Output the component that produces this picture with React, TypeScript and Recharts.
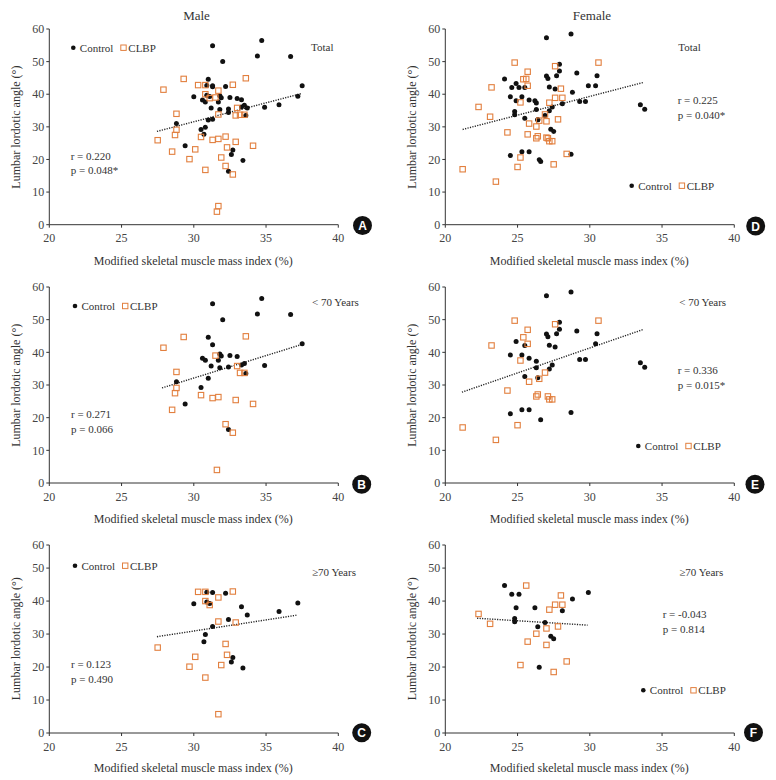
import { ScatterChart, Scatter, XAxis, YAxis, ReferenceLine } from 'recharts';

type Pt = { x: number; y: number };
const toPts = (arr: number[][]): Pt[] => arr.map(([x, y]) => ({ x, y }));

const X_TICKS = [20, 25, 30, 35, 40];
const Y_TICKS = [0, 10, 20, 30, 40, 50, 60];
// bottom row: the source axis stops short of 60 but is still labelled 60
const Y_TICKS_SHORT = [0, 10, 20, 30, 40, 50, 57];
const Y_TICK_LABELS = ['0', '10', '20', '30', '40', '50', '60'];

// Male, < 70 years
const B_CONTROL = [
  [31.3, 54.9], [34.7, 56.5], [34.4, 51.7], [36.7, 51.6], [32.0, 50.0], [31.0, 44.6],
  [31.3, 42.3], [37.5, 42.6], [30.6, 38.2], [30.8, 37.6], [31.8, 39.5], [31.9, 38.9],
  [31.7, 37.6], [32.5, 39.0], [33.0, 38.7], [31.2, 35.8], [31.8, 35.3], [32.4, 35.5],
  [33.3, 36.1], [33.5, 36.6], [34.9, 36.0], [33.6, 33.5], [31.0, 32.1], [28.8, 31.0],
  [30.5, 29.2], [29.4, 24.2], [32.4, 16.4],
];
const B_CLBP = [
  [29.3, 44.7], [33.6, 44.9], [27.9, 41.4], [31.5, 39.0], [28.8, 34.0], [33.0, 35.8],
  [33.2, 33.7], [33.5, 33.7], [28.8, 29.1], [28.7, 27.5], [30.5, 26.9], [31.3, 26.0],
  [31.7, 26.3], [32.9, 25.4], [34.1, 24.2], [28.5, 22.4], [32.2, 18.0], [32.7, 15.4],
  [31.6, 4.0],
];
// Male, >= 70 years
const C_CONTROL = [
  [30.9, 42.7], [31.3, 42.6], [32.2, 42.4], [30.0, 39.2], [30.9, 39.7], [31.1, 39.3],
  [33.3, 38.3], [35.9, 36.8], [37.2, 39.4], [33.7, 35.8], [32.4, 34.4], [31.3, 32.3],
  [30.8, 29.9], [30.7, 27.7], [32.7, 22.9], [32.6, 21.5], [33.4, 19.7],
];
const C_CLBP = [
  [30.3, 42.8], [30.8, 42.8], [32.7, 42.9], [30.8, 40.0], [31.1, 38.8], [31.7, 41.1],
  [31.7, 33.8], [32.9, 33.5], [27.5, 25.9], [32.2, 27.0], [32.3, 23.7], [30.1, 23.1],
  [29.7, 20.1], [31.9, 20.6], [30.8, 16.8], [31.7, 5.7],
];
// Female, < 70 years
const E_CONTROL = [
  [27.0, 57.3], [28.7, 58.5], [27.9, 49.2], [27.9, 47.1], [27.7, 45.7], [27.0, 45.6],
  [27.1, 44.8], [29.1, 46.5], [30.5, 45.7], [24.9, 43.3], [27.2, 42.2], [27.6, 41.6],
  [30.4, 42.6], [25.5, 42.1], [24.5, 39.2], [25.3, 39.2], [25.8, 38.2], [26.3, 37.3],
  [26.3, 35.3], [29.3, 37.8], [29.7, 37.8], [27.4, 36.1], [27.2, 34.9], [25.5, 32.6],
  [26.4, 32.2], [33.5, 36.8], [33.8, 35.4], [24.5, 21.2], [25.3, 22.4], [25.8, 22.4],
  [26.6, 19.4], [28.7, 21.6],
];
const E_CLBP = [
  [24.8, 49.7], [30.6, 49.7], [27.6, 48.6], [25.7, 46.9], [25.4, 44.6], [25.7, 42.6],
  [23.2, 42.1], [25.2, 37.5], [26.9, 33.8], [26.5, 31.9], [25.8, 31.0], [24.3, 28.3],
  [26.4, 27.1], [26.3, 26.5], [27.1, 26.5], [27.2, 25.6], [27.4, 25.6], [25.0, 17.7],
  [21.2, 17.0], [23.5, 13.2],
];
// Female, >= 70 years
const F_CONTROL = [
  [24.1, 44.7], [24.6, 42.1], [25.1, 42.1], [29.9, 42.6], [28.8, 40.6], [24.9, 38.0],
  [26.2, 38.0], [28.1, 37.1], [24.8, 34.7], [24.8, 33.7], [26.9, 33.5], [26.4, 32.2],
  [27.3, 29.3], [27.5, 28.6], [26.5, 19.9],
];
const F_CLBP = [
  [25.6, 44.7], [28.0, 41.7], [27.6, 38.9], [28.1, 38.9], [27.2, 37.4], [22.3, 36.1],
  [23.1, 33.1], [27.0, 31.7], [27.8, 32.3], [26.3, 30.1], [25.7, 27.7], [27.0, 26.7],
  [25.2, 20.6], [28.4, 21.7], [27.5, 18.5],
];

// fitted line end points
const TREND_A = [[27.45, 28.6], [37.45, 40.2]];
const TREND_B = [[27.8, 29.1], [37.4, 42.3]];
const TREND_C = [[27.45, 29.2], [37.1, 35.7]];
const TREND_D = [[21.2, 29.2], [33.7, 43.6]];
const TREND_E = [[21.15, 27.8], [33.7, 47.0]];
const TREND_F = [[22.2, 34.8], [29.85, 32.7]];

const STATS_A = ['r = 0.220', 'p = 0.048*'];
const STATS_B = ['r = 0.271', 'p = 0.066'];
const STATS_C = ['r = 0.123', 'p = 0.490'];
const STATS_D = ['r = 0.225', 'p = 0.040*'];
const STATS_E = ['r = 0.336', 'p = 0.015*'];
const STATS_F = ['r = -0.043', 'p = 0.814'];

const ORANGE = '#e27f3e';
const INK = '#333';
const SERIF = '"Liberation Serif", "DejaVu Serif", serif';

type PanelCfg = {
  id: string;
  plotLeft: number;
  plotTop: number;
  plotBottom: number;
  yMax: number;
  yTicks: number[];
  control: Pt[];
  clbp: Pt[];
  trend: Pt[];
  stats: string[];
  statsPos: [number, number];
  group: string;
  groupPos: [number, number];
  legendPos: [number, number]; // dot centre
  badge: [number, number];
};

const panels: PanelCfg[] = [
  {
    id: 'A', plotLeft: 49.3, plotTop: 29.3, plotBottom: 225, yMax: 60, yTicks: Y_TICKS,
    control: toPts([...B_CONTROL, ...C_CONTROL]), clbp: toPts([...B_CLBP, ...C_CLBP]),
    trend: toPts(TREND_A), stats: STATS_A, statsPos: [70.7, 155.7],
    group: 'Total', groupPos: [311, 46.7], legendPos: [73.3, 47.7], badge: [362.5, 225.5],
  },
  {
    id: 'B', plotLeft: 49.3, plotTop: 287.3, plotBottom: 483.3, yMax: 60, yTicks: Y_TICKS,
    control: toPts(B_CONTROL), clbp: toPts(B_CLBP),
    trend: toPts(TREND_B), stats: STATS_B, statsPos: [71, 414],
    group: '< 70 Years', groupPos: [312, 302.3], legendPos: [75, 306], badge: [361.7, 484.3],
  },
  {
    id: 'C', plotLeft: 49.3, plotTop: 544.7, plotBottom: 732.7, yMax: 57, yTicks: Y_TICKS_SHORT,
    control: toPts(C_CONTROL), clbp: toPts(C_CLBP),
    trend: toPts(TREND_C), stats: STATS_C, statsPos: [71, 664.3],
    group: '\u226570 Years', groupPos: [312, 572], legendPos: [75, 565.7], badge: [361.7, 732.7],
  },
  {
    id: 'D', plotLeft: 445.3, plotTop: 29.3, plotBottom: 225, yMax: 60, yTicks: Y_TICKS,
    control: toPts([...E_CONTROL, ...F_CONTROL]), clbp: toPts([...E_CLBP, ...F_CLBP]),
    trend: toPts(TREND_D), stats: STATS_D, statsPos: [677.7, 100],
    group: 'Total', groupPos: [678.3, 46.7], legendPos: [631.7, 185.7], badge: [755.7, 226],
  },
  {
    id: 'E', plotLeft: 445.3, plotTop: 287.3, plotBottom: 483.3, yMax: 60, yTicks: Y_TICKS,
    control: toPts(E_CONTROL), clbp: toPts(E_CLBP),
    trend: toPts(TREND_E), stats: STATS_E, statsPos: [677.7, 370],
    group: '< 70 Years', groupPos: [679.3, 302.3], legendPos: [638.3, 446], badge: [755, 484.3],
  },
  {
    id: 'F', plotLeft: 445.3, plotTop: 544.7, plotBottom: 732.7, yMax: 57, yTicks: Y_TICKS_SHORT,
    control: toPts(F_CONTROL), clbp: toPts(F_CLBP),
    trend: toPts(TREND_F), stats: STATS_F, statsPos: [662.7, 614.3],
    group: '\u226570 Years', groupPos: [679.3, 572], legendPos: [643.3, 690.3], badge: [753.5, 732.5],
  },
];

const PLOT_W = 289;
const CHART_W = 390;
const AXIS_W = 40;
const X_AXIS_H = 25;

const tickStyle = { fill: '#444', fontSize: 12, fontFamily: SERIF };

function ControlDot(props: any) {
  const { cx, cy } = props;
  return <circle cx={cx} cy={cy} r={2.5} fill="#111" />;
}

function ClbpSquare(props: any) {
  const { cx, cy } = props;
  return (
    <rect x={cx - 2.7} y={cy - 2.7} width={5.4} height={5.4} fill="none" stroke={ORANGE} strokeWidth={1.1} />
  );
}

function Panel({ p }: { p: PanelCfg }) {
  const marginTop = 20;
  const left = p.plotLeft - AXIS_W - 9.3;
  const top = p.plotTop - marginTop;
  const height = p.plotBottom - top + X_AXIS_H + 8;
  return (
    <div style={{ position: 'absolute', left, top }}>
      <ScatterChart
        width={CHART_W}
        height={height}
        margin={{ top: marginTop, right: CHART_W - 9.3 - AXIS_W - PLOT_W, bottom: 8, left: 9.3 }}
      >
        <XAxis
          type="number"
          dataKey="x"
          domain={[20, 40]}
          ticks={X_TICKS}
          height={X_AXIS_H}
          tickSize={3}
          tickMargin={6}
          tick={tickStyle}
          axisLine={{ stroke: INK }}
          tickLine={{ stroke: INK }}
          allowDataOverflow
        />
        <YAxis
          type="number"
          dataKey="y"
          domain={[0, p.yMax]}
          ticks={p.yTicks}
          width={AXIS_W}
          tickSize={3}
          tickMargin={2}
          tick={tickStyle}
          tickFormatter={(_v: number, i: number) => Y_TICK_LABELS[i]}
          axisLine={{ stroke: INK }}
          tickLine={{ stroke: INK }}
          allowDataOverflow
        />
        <ReferenceLine
          segment={[p.trend[0], p.trend[1]]}
          stroke="#222"
          strokeWidth={1.4}
          strokeDasharray="1.2 1.3"
          ifOverflow="visible"
        />
        <Scatter data={p.control} shape={ControlDot} isAnimationActive={false} />
        <Scatter data={p.clbp} shape={ClbpSquare} isAnimationActive={false} />
      </ScatterChart>
    </div>
  );
}

function Annotations({ p }: { p: PanelCfg }) {
  const midX = p.plotLeft + PLOT_W / 2;
  const midY = (p.plotTop + p.plotBottom) / 2;
  const yTitleX = p.plotLeft - 32.8;
  const [lx, ly] = p.legendPos;
  return (
    <g fontFamily={SERIF} fill={INK}>
      <text x={midX - 0.5} y={p.plotBottom + 35.5} fontSize={12} textAnchor="middle" dominantBaseline="central">
        Modified skeletal muscle mass index (%)
      </text>
      <text
        x={yTitleX}
        y={midY}
        fontSize={12}
        textAnchor="middle"
        dominantBaseline="central"
        transform={`rotate(-90 ${yTitleX} ${midY})`}
      >
        Lumbar lordotic angle (°)
      </text>
      <circle cx={lx} cy={ly} r={2.3} fill="#111" />
      <text x={lx + 6.5} y={ly} fontSize={11} dominantBaseline="central">Control</text>
      <rect x={lx + 47.5} y={ly - 2.7} width={5.4} height={5.4} fill="none" stroke={ORANGE} strokeWidth={1} />
      <text x={lx + 55} y={ly} fontSize={11} dominantBaseline="central">CLBP</text>
      <text x={p.groupPos[0]} y={p.groupPos[1]} fontSize={11} dominantBaseline="central">{p.group}</text>
      <text x={p.statsPos[0]} y={p.statsPos[1]} fontSize={11} dominantBaseline="central">{p.stats[0]}</text>
      <text x={p.statsPos[0]} y={p.statsPos[1] + 14.5} fontSize={11} dominantBaseline="central">{p.stats[1]}</text>
      <circle cx={p.badge[0]} cy={p.badge[1]} r={9.5} fill="#111" />
      <text
        x={p.badge[0]}
        y={p.badge[1] + 0.5}
        fontSize={12}
        fontWeight="bold"
        fill="#fff"
        textAnchor="middle"
        dominantBaseline="central"
        fontFamily='"Liberation Sans", Arial, sans-serif'
      >
        {p.id}
      </text>
    </g>
  );
}

export default function App() {
  return (
    <div style={{ position: 'absolute', left: 0, top: 0, width: 776, height: 780, background: '#fff' }}>
      {panels.map((p) => (
        <Panel key={p.id} p={p} />
      ))}
      <svg width={776} height={780} style={{ position: 'absolute', left: 0, top: 0, pointerEvents: 'none' }}>
        <text x={196.5} y={15} fontSize={13} textAnchor="middle" dominantBaseline="central" fontFamily={SERIF} fill={INK}>
          Male
        </text>
        <text x={592} y={15} fontSize={13} textAnchor="middle" dominantBaseline="central" fontFamily={SERIF} fill={INK}>
          Female
        </text>
        {panels.map((p) => (
          <Annotations key={p.id} p={p} />
        ))}
      </svg>
    </div>
  );
}
